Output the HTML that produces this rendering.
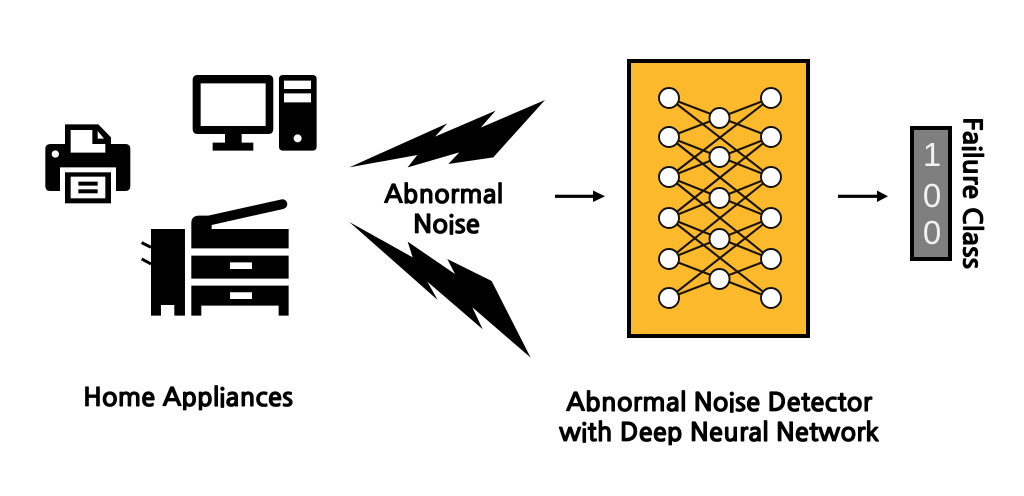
<!DOCTYPE html>
<html>
<head>
<meta charset="utf-8">
<style>
html,body{margin:0;padding:0;background:#fff;}
svg{display:block;}
text{font-family:"NanumGothic","Liberation Sans","Noto Sans CJK KR",sans-serif;font-weight:700;fill:#000;stroke:#000;stroke-width:0.75px;}
.d{font-family:"Liberation Sans",sans-serif;font-weight:400;fill:#f2f2f2;stroke:none;font-size:33px;text-anchor:middle;}
</style>
</head>
<body>
<svg width="1024" height="496" viewBox="0 0 1024 496" xmlns="http://www.w3.org/2000/svg">
<rect width="1024" height="496" fill="#fff"/>

<!-- icons -->
<g transform="translate(30,60) scale(0.3333)" fill="#000">
  <!-- computer -->
  <path fill-rule="evenodd" d="M503,45H715Q730,45 730,60V207Q730,222 715,222H635V248H670V272H548V248H585V222H503Q488,222 488,207V60Q488,45 503,45ZM512,70V198H707V70Z"/>
  <path fill-rule="evenodd" d="M759,45H848Q860,45 860,57V260Q860,272 848,272H759Q747,272 747,260V57Q747,45 759,45ZM762,62V87H843V62ZM762,100V127H843V100Z"/>
  <circle cx="803" cy="235" r="12" fill="#fff"/>
  <!-- printer -->
  <path d="M105,252V193H205L243,232V252H286Q301,252 301,267V378Q301,393 286,393H258V322H90V393H61Q46,393 46,378V267Q46,252 61,252Z"/>
  <path d="M122,210H187V252H226V278H122Z" fill="#fff"/>
  <path d="M203,213L222,236H203Z" fill="#fff"/>
  <circle cx="76" cy="282" r="11" fill="#fff"/>
  <rect x="105" y="337" width="138" height="93"/>
  <rect x="122" y="350" width="104" height="65" fill="#fff"/>
  <rect x="145" y="365" width="58" height="12"/>
  <rect x="145" y="388" width="58" height="12"/>
  <!-- copier -->
  <path d="M363,507H465V767H433V735H393V767H363Z"/>
  <path d="M335,548L363,562M335,597L363,612" stroke="#000" stroke-width="9" fill="none"/>
  <path d="M484,565V490Q484,467 507,467H535L755,418Q768,417 772,430Q773,443 760,447L545,495V507H776V565Z"/>
  <path fill-rule="evenodd" d="M484,587H776V656H484ZM600,607V627H666V607Z"/>
  <path fill-rule="evenodd" d="M484,677H776V767H746V737H514V767H484ZM600,697V717H666V697Z"/>
</g>

<!-- bolts -->
<g transform="translate(340,90) scale(0.3333)" fill="#000">
  <polygon points="28,232 322,100 285,140 467,62 422,113 615,30 460,202 325,222 358,187 203,232 232,195"/>
  <polygon points="28,396 218,502 203,455 345,552 322,507 455,573 572,803 397,652 428,718 262,575 293,630"/>
</g>

<!-- arrows -->
<g fill="#000" stroke="none">
  <rect x="555" y="194.7" width="40" height="3.2"/>
  <polygon points="593,190.5 605,196.3 593,202"/>
  <rect x="838" y="194.7" width="41" height="3.2"/>
  <polygon points="877,190.5 888,196.3 877,202"/>
</g>

<!-- network box -->
<rect x="629" y="61" width="179" height="275" fill="#FDB92C" stroke="#000" stroke-width="4"/>
<g stroke="#1a1400" stroke-width="2.1" fill="none">
  <path d="M669,98L771,137M669,98L771,177
           M669,137L771,98M669,137L771,177M669,137L771,218
           M669,177L771,98M669,177L771,137M669,177L771,218M669,177L771,259
           M669,218L771,137M669,218L771,177M669,218L771,259M669,218L771,298
           M669,259L771,177M669,259L771,218M669,259L771,298
           M669,298L771,218M669,298L771,259"/>
</g>
<g fill="#fff" stroke="#111" stroke-width="1.9">
  <circle cx="669" cy="98" r="10"/><circle cx="669" cy="137" r="10"/><circle cx="669" cy="177" r="10"/>
  <circle cx="669" cy="218" r="10"/><circle cx="669" cy="259" r="10"/><circle cx="669" cy="298" r="10"/>
  <circle cx="771" cy="98" r="10"/><circle cx="771" cy="137" r="10"/><circle cx="771" cy="177" r="10"/>
  <circle cx="771" cy="218" r="10"/><circle cx="771" cy="259" r="10"/><circle cx="771" cy="298" r="10"/>
  <circle cx="719.5" cy="118" r="10"/><circle cx="719.5" cy="157" r="10"/><circle cx="719.5" cy="198" r="10"/>
  <circle cx="719.5" cy="239" r="10"/><circle cx="719.5" cy="279" r="10"/>
</g>

<!-- failure class box -->
<rect x="912" y="128" width="38" height="131" fill="#7f7f7f" stroke="#000" stroke-width="4"/>
<text class="d" x="932" y="166">1</text>
<text class="d" x="932" y="207">0</text>
<text class="d" x="932" y="244">0</text>

<!-- labels -->
<text x="384" y="203" font-size="25" textLength="119" lengthAdjust="spacingAndGlyphs">Abnormal</text>
<text x="413" y="233" font-size="25" textLength="67" lengthAdjust="spacingAndGlyphs">Noise</text>
<text x="83" y="406" font-size="25" textLength="210" lengthAdjust="spacingAndGlyphs">Home Appliances</text>
<text x="566" y="411" font-size="25" textLength="306" lengthAdjust="spacingAndGlyphs">Abnormal Noise Detector</text>
<text x="559" y="441" font-size="25" textLength="320" lengthAdjust="spacingAndGlyphs">with Deep Neural Network</text>
<text transform="translate(963.5,117) rotate(90)" font-size="25" textLength="152" lengthAdjust="spacingAndGlyphs">Failure Class</text>
</svg>
</body>
</html>
